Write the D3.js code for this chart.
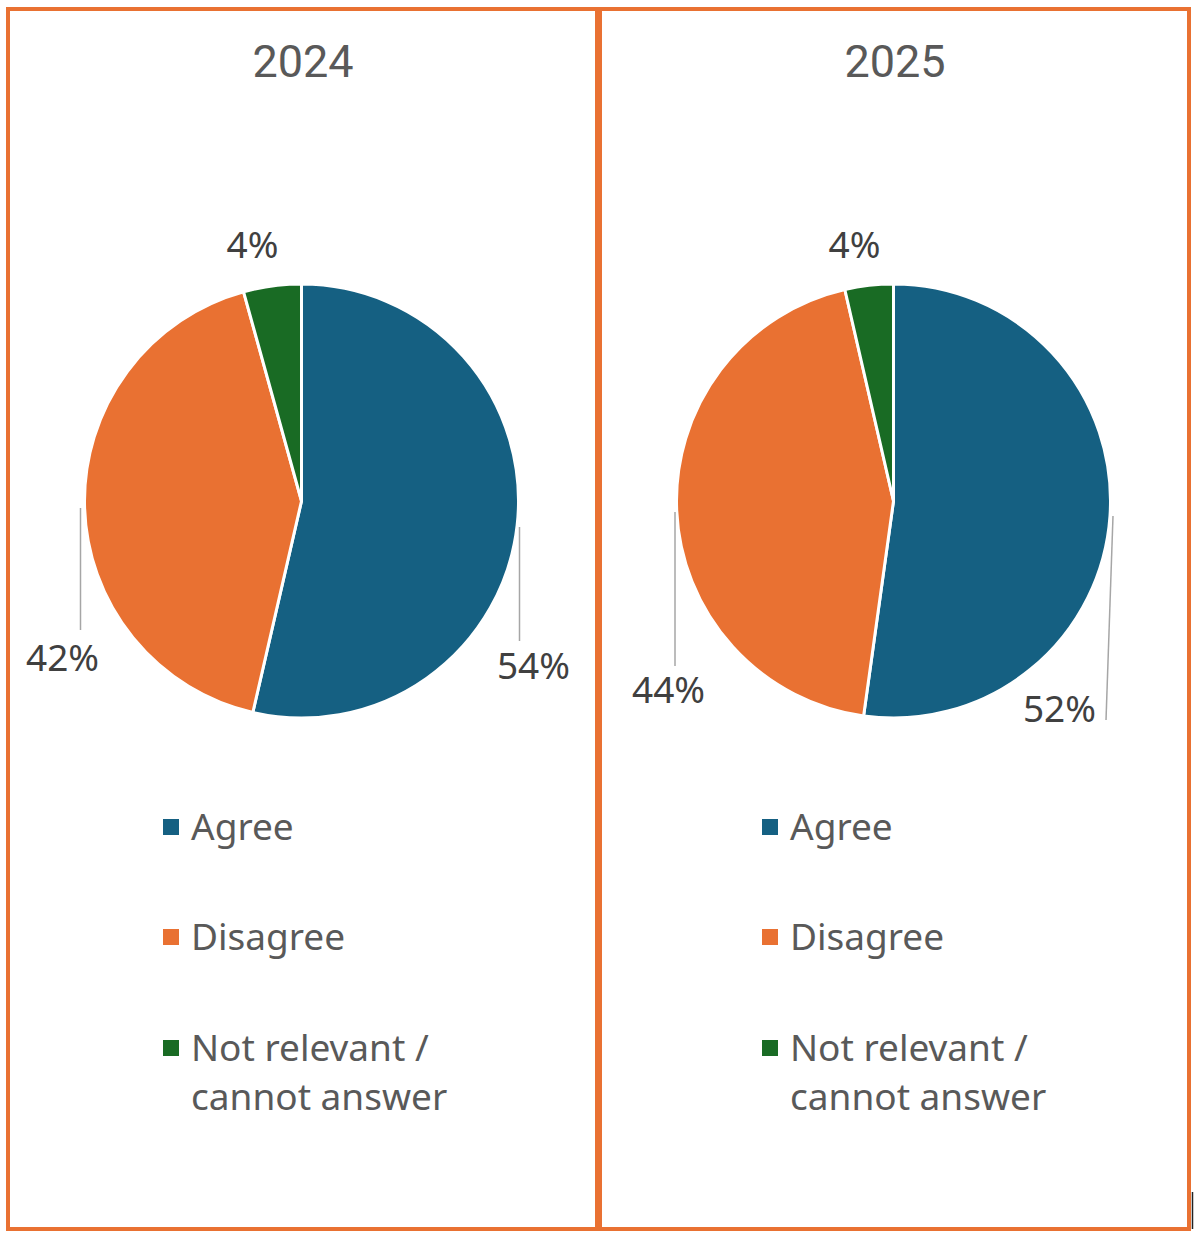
<!DOCTYPE html>
<html>
<head>
<meta charset="utf-8">
<script src="https://cdn.jsdelivr.net/npm/d3@7"></script>
<style>
    body { margin: 0; background: #fff; }
    svg text { font-family: "Noto Sans", Roboto, sans-serif; }
    svg text.title { font-family: Roboto, "Noto Sans", sans-serif; }
</style>
</head>
<body>
<div id="chart"></div>
<script>
// data
const years = ["2024", "2025"];
const categories = ["Agree", "Disagree", "Not relevant / cannot answer"];
const values2024 = [53.6, 42.1, 4.3];
const values2025 = [52.2, 44.2, 3.6];
const colors = ["#156082", "#E97132", "#196B24"];

const width = 1200;
const height = 1238;
const panelW = 590;
const radius = 217;

// label placement (offsets from pie centre), dragged labels like in the original
const layouts = [
    {
        labels: [[232, 165], [-239, 157], [-49, -256]],
        leaders: [[[218, 26], [218, 140]], [[-221, 7], [-221, 129]], null],
        legendX: 155
    },
    {
        labels: [[166, 208], [-225, 189], [-39, -256]],
        leaders: [[[219.5, 15], [212.5, 219]], [[-218.5, 11], [-218.5, 165]], null],
        legendX: 162
    }
];

const svg = d3.select("#chart")
    .append("svg")
    .attr("width", width)
    .attr("height", height);

const pie = d3.pie().sort(null).value(d => d);
const arc = d3.arc().innerRadius(0).outerRadius(radius);
const color = d3.scaleOrdinal().domain(categories).range(colors);
const pct = d3.format(".0%");

function drawPanel(i, year, values) {
    const x0 = 8 + i * 592;
    const cx = x0 + panelW / 2;
    const cy = 501;
    const lay = layouts[i];
    const total = d3.sum(values);

    const g = svg.append("g");

    // panel frame
    g.append("rect")
        .attr("x", x0)
        .attr("y", 9)
        .attr("width", panelW - 1)
        .attr("height", 1220)
        .attr("fill", "none")
        .attr("stroke", "#E97132")
        .attr("stroke-width", 4);

    // title
    g.append("text")
        .attr("class", "title")
        .attr("x", cx)
        .attr("y", 77)
        .attr("text-anchor", "middle")
        .attr("fill", "#595959")
        .style("font-size", "45px")
        .text(year);

    const pieG = g.append("g")
        .attr("transform", `translate(${cx - 1.5},${cy})`);

    pieG.selectAll("path")
        .data(pie(values))
        .enter()
        .append("path")
        .attr("d", arc)
        .attr("fill", (d, j) => color(categories[j]))
        .attr("stroke", "#fff")
        .attr("stroke-width", 3)
        .attr("stroke-linejoin", "round");

    // leader lines
    pieG.selectAll(".leader")
        .data(lay.leaders.filter(d => d))
        .enter()
        .append("line")
        .attr("class", "leader")
        .attr("x1", d => d[0][0])
        .attr("y1", d => d[0][1])
        .attr("x2", d => d[1][0])
        .attr("y2", d => d[1][1])
        .attr("stroke", "#A6A6A6")
        .attr("stroke-width", 1.5);

    // data labels
    pieG.selectAll(".pct")
        .data(values)
        .enter()
        .append("text")
        .attr("class", "pct")
        .attr("x", (d, j) => lay.labels[j][0])
        .attr("y", (d, j) => lay.labels[j][1] + 13)
        .attr("text-anchor", "middle")
        .attr("fill", "#404040")
        .style("font-size", "37px")
        .text(d => pct(d / total));

    // legend
    const legend = g.append("g")
        .attr("transform", `translate(${x0 + lay.legendX},0)`);

    const rowY = [827, 937, 1048];
    categories.forEach((c, j) => {
        legend.append("rect")
            .attr("x", 0)
            .attr("y", rowY[j] - 8)
            .attr("width", 16)
            .attr("height", 16)
            .attr("fill", color(c));

        const lines = c === "Not relevant / cannot answer" ? ["Not relevant /", "cannot answer"] : [c];
        lines.forEach((t, k) => {
            legend.append("text")
                .attr("x", 28)
                .attr("y", rowY[j] + 13 + k * 49)
                .attr("fill", "#595959")
                .style("font-size", "37px")
                .text(t);
        });
    });
}

drawPanel(0, years[0], values2024);
drawPanel(1, years[1], values2025);

// small dark tick at the bottom right edge of the screenshot
svg.append("line")
    .attr("x1", 1192.5).attr("y1", 1192)
    .attr("x2", 1192.5).attr("y2", 1229)
    .attr("stroke", "#222")
    .attr("stroke-width", 1.5);
</script>
</body>
</html>
